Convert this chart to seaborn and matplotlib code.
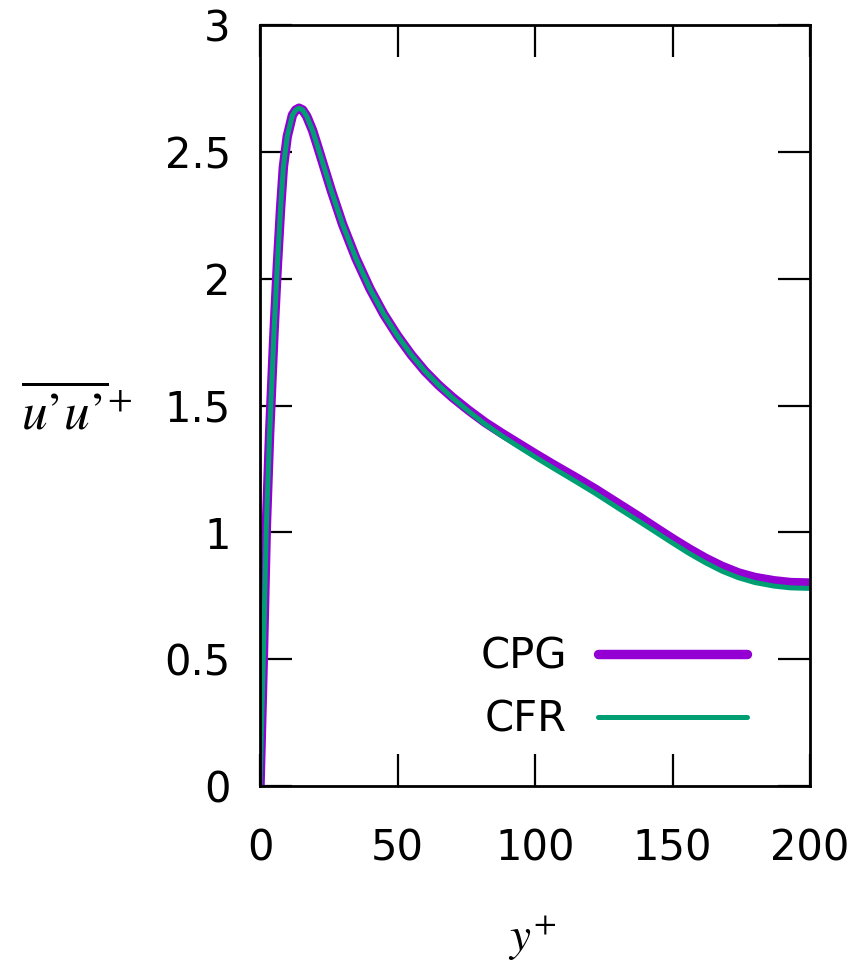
import numpy as np
import pandas as pd
import matplotlib
matplotlib.use("Agg")
import matplotlib.pyplot as plt
import seaborn as sns

# Streamwise normal stress profile near the wall
y_plus = [0, 1.2, 2.3, 3.5, 5.1, 6.3, 7.5, 8.5, 9.9, 11.8, 13.0, 14.2, 15.5,
          17.0, 19.1, 21.0, 23.0, 26.0, 30.0, 34.9, 40.0, 45.0, 50.0, 55.0,
          60.0, 65.0, 70.0, 76.0, 82.0, 88.0, 94.0, 100.0, 106.5, 115.0, 122.0,
          130.0, 138.0, 145.0, 150.0, 156.0, 162.0, 168.0, 174.0, 180.0, 187.0,
          193.0, 200.0]
cpg = [0.00, 0.50, 1.02, 1.39, 1.79, 2.05, 2.28, 2.44, 2.56, 2.645, 2.665,
       2.672, 2.665, 2.64, 2.585, 2.52, 2.45, 2.345, 2.215, 2.08, 1.96, 1.86,
       1.775, 1.70, 1.635, 1.58, 1.532, 1.48, 1.432, 1.39, 1.35, 1.31, 1.268,
       1.215, 1.17, 1.115, 1.06, 1.01, 0.975, 0.935, 0.898, 0.866, 0.84, 0.822,
       0.809, 0.802, 0.800]
cfr = [0.00, 0.50, 1.02, 1.39, 1.79, 2.05, 2.28, 2.44, 2.56, 2.645, 2.665,
       2.672, 2.665, 2.64, 2.585, 2.52, 2.45, 2.345, 2.215, 2.08, 1.96, 1.86,
       1.775, 1.70, 1.635, 1.58, 1.530, 1.476, 1.425, 1.380, 1.338, 1.297, 1.254,
       1.199, 1.153, 1.097, 1.042, 0.993, 0.958, 0.917, 0.880, 0.847, 0.821,
       0.802, 0.788, 0.781, 0.779]

x_ticks = [0, 50, 100, 150, 200]
y_ticks = [0, 0.5, 1, 1.5, 2, 2.5, 3]
y_tick_labels = ["0", "0.5", "1", "1.5", "2", "2.5", "3"]

sns.set_theme(style="white")
plt.rcParams["font.family"] = ["DejaVu Sans"]
plt.rcParams["mathtext.fontset"] = "stix"

fig = plt.figure(figsize=(8.66, 9.67), dpi=100)
ax = fig.add_axes([260 / 866, 1 - 786 / 967, 550 / 866, 761 / 967])

sns.lineplot(x=y_plus, y=cpg, ax=ax, color="#9400D3", lw=6.8, label="CPG",
             sort=False, estimator=None)
sns.lineplot(x=y_plus, y=cfr, ax=ax, color="#009E73", lw=3.6, label="CFR",
             sort=False, estimator=None)

ax.set_xlim(0, 200)
ax.set_ylim(0, 3)
ax.set_xticks(x_ticks)
ax.set_xticklabels([str(t) for t in x_ticks])
ax.set_yticks(y_ticks)
ax.set_yticklabels(y_tick_labels)

for side in ["left", "right", "top", "bottom"]:
    ax.spines[side].set_visible(True)
    ax.spines[side].set_color("black")
    ax.spines[side].set_linewidth(2.0)

ax.tick_params(axis="both", which="major", direction="in", length=23, width=1.6,
               color="black", labelsize=30, labelcolor="black",
               top=True, right=True, bottom=True, left=True)
ax.tick_params(axis="y", pad=21)
ax.tick_params(axis="x", pad=30)

ax.set_ylabel("$\\overline{u\u2019u\u2019}^{+}$", fontsize=37, rotation=0,
              ha="center", va="center", color="black")
ax.yaxis.set_label_coords(-0.333, 0.49)
ax.set_xlabel(r"$y^{+}$", fontsize=34, ha="center", va="center", color="black")
ax.xaxis.set_label_coords(0.494, -0.2)

leg = ax.legend(loc="lower right", bbox_to_anchor=(0.924, 0.032), frameon=False,
                markerfirst=False, fontsize=30, handlelength=3.58,
                handletextpad=0.75, labelspacing=0.52, borderpad=0.0,
                labelcolor="black")

fig.savefig("out.png", dpi=100, facecolor="white")
